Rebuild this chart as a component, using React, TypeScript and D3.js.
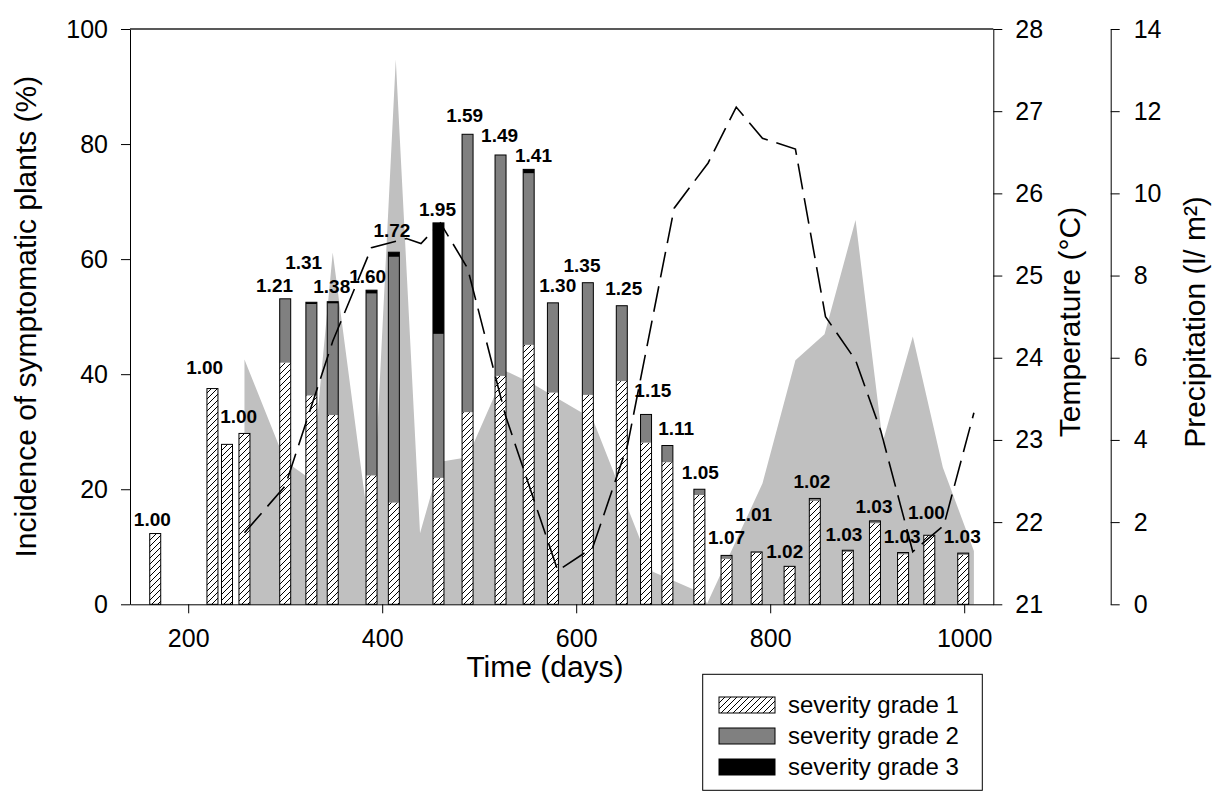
import React, { useEffect, useRef } from 'react';
import * as d3 from 'd3';

// sampling days of the disease survey
const barDays = [166, 225, 240, 258, 300, 327, 349, 389, 412, 458, 488, 522, 551, 576, 612, 647, 672, 694, 727, 755, 786, 820, 846, 880, 908, 937, 964, 999];
// incidence (%) split by severity grade
const grade1 = [12.3, 37.5, 27.8, 29.7, 42.0, 36.3, 32.9, 22.4, 17.7, 22.0, 33.4, 39.7, 45.1, 36.8, 36.4, 38.8, 28.1, 24.7, 19.0, 7.9, 9.0, 6.5, 18.0, 9.1, 14.1, 8.7, 12.0, 8.6];
const grade2 = [0, 0, 0, 0, 11.1, 15.9, 19.4, 31.6, 42.7, 25.0, 48.3, 38.4, 29.8, 15.6, 19.5, 13.1, 4.9, 2.9, 1.0, 0.6, 0.1, 0.1, 0.4, 0.3, 0.4, 0.3, 0, 0.3];
const grade3 = [0, 0, 0, 0, 0, 0.3, 0.3, 0.6, 0.8, 19.3, 0, 0, 0.7, 0, 0, 0, 0, 0, 0, 0, 0, 0, 0, 0, 0, 0, 0, 0];

// mean severity index above the bars (null = no label)
const severityLabels = ['1.00', '1.00', null, '1.00', '1.21', '1.31', '1.38', '1.60', '1.72', '1.95', '1.59', '1.49', '1.41', '1.30', '1.35', '1.25', '1.15', '1.11', '1.05', '1.07', '1.01', '1.02', '1.02', '1.03', '1.03', '1.03', '1.00', '1.03'];
// label anchors in data units (day, %)
const labelDays = [163, 217, null, 252, 289, 319, 348, 385, 410, 457, 485, 521, 556, 581, 606, 649, 679, 703, 728, 755, 783, 815, 843, 876, 907, 936, 961, 998];
const labelPcts = [13.6, 40.0, null, 31.5, 54.3, 58.2, 54.1, 55.8, 63.9, 67.5, 83.9, 80.4, 76.9, 54.3, 57.8, 53.8, 36.0, 29.4, 21.7, 10.4, 14.5, 8.0, 20.3, 11.0, 15.9, 10.7, 14.8, 10.7];

// mean temperature (°C)
const tempDays = [258, 300, 349, 389, 425, 440, 460, 488, 527, 581, 617, 653, 701, 736, 765, 792, 826, 857, 888, 914, 947, 979, 1010];
const tempValues = [21.87, 22.44, 24.2, 25.34, 25.45, 25.39, 25.64, 25.09, 23.3, 21.41, 21.69, 22.94, 25.82, 26.37, 27.05, 26.67, 26.54, 24.5, 23.97, 23.11, 21.64, 21.96, 23.33];

// precipitation (l/m²)
const precipDays = [258, 300, 327, 349, 389, 414, 439, 460, 488, 527, 555, 617, 679, 727, 735, 792, 826, 856, 888, 916, 947, 978, 1010];
const precipValues = [5.96, 3.48, 3.03, 8.56, 1.37, 13.26, 1.73, 3.47, 3.58, 5.68, 5.37, 4.51, 0.79, 0.3, 0.02, 2.94, 5.94, 6.57, 9.35, 3.95, 6.52, 3.33, 1.3];

const xTicks = [200, 400, 600, 800, 1000];
const pctTicks = [0, 20, 40, 60, 80, 100];
const tempTicks = [21, 22, 23, 24, 25, 26, 27, 28];
const precipTicks = [0, 2, 4, 6, 8, 10, 12, 14];

const legendItems = ['severity grade 1', 'severity grade 2', 'severity grade 3'];

const FONT = '"Liberation Sans", Arial, Helvetica, sans-serif';

const App = () => {
  const svgRef = useRef<SVGSVGElement>(null);

  useEffect(() => {
    const svg = d3.select(svgRef.current);
    svg.selectAll('*').remove();

    const left = 130, right = 993.3, top = 29, bottom = 604.3;
    const precipAxisX = 1110.7;

    const x = d3.scaleLinear().domain([140, 1030]).range([left, right]);
    const y = d3.scaleLinear().domain([0, 100]).range([bottom, top]);
    const yT = d3.scaleLinear().domain([21, 28]).range([bottom, top]);
    const yP = d3.scaleLinear().domain([0, 14]).range([bottom, top]);

    const fills = ['url(#hatch)', '#808080', '#000'];
    const plain = d => String(d);

    const defs = svg.append('defs');
    const pat = defs.append('pattern')
      .attr('id', 'hatch')
      .attr('patternUnits', 'userSpaceOnUse')
      .attr('width', 6)
      .attr('height', 6);
    pat.append('rect').attr('width', 6).attr('height', 6).attr('fill', '#fff');
    pat.append('path')
      .attr('d', 'M-1.5,1.5 l3,-3 M0,6 l6,-6 M4.5,7.5 l3,-3')
      .attr('stroke', '#000')
      .attr('stroke-width', 1);

    // precipitation area
    const area = d3.area<number>()
      .x((d, i) => x(precipDays[i]))
      .y0(yP(0))
      .y1(d => yP(d));
    svg.append('path').datum(precipValues).attr('d', area).attr('fill', '#c0c0c0');

    // stacked bars
    const bw = 11;
    const bars = barDays.map((day, i) => {
      const a = grade1[i], b = grade2[i], c = grade3[i];
      return { day, segs: [[0, a], [a, a + b], [a + b, a + b + c]], total: a + b + c };
    });
    const barG = svg.selectAll('.bar').data(bars).join('g').attr('class', 'bar');
    barG.selectAll('rect.seg')
      .data(d => d.segs.map((s, k) => ({ day: d.day, s, k })).filter(o => o.s[1] > o.s[0]))
      .join('rect')
      .attr('class', 'seg')
      .attr('x', o => x(o.day) - bw / 2)
      .attr('y', o => y(o.s[1]))
      .attr('width', bw)
      .attr('height', o => y(o.s[0]) - y(o.s[1]))
      .attr('fill', o => fills[o.k]);
    barG.append('rect')
      .attr('x', d => x(d.day) - bw / 2)
      .attr('y', d => y(d.total))
      .attr('width', bw)
      .attr('height', d => y(0) - y(d.total))
      .attr('fill', 'none')
      .attr('stroke', '#000')
      .attr('stroke-width', 1);

    // temperature line
    const line = d3.line<number>()
      .x((d, i) => x(tempDays[i]))
      .y(d => yT(d));
    svg.append('path')
      .datum(tempValues)
      .attr('d', line)
      .attr('fill', 'none')
      .attr('stroke', '#000')
      .attr('stroke-width', 1.6)
      .attr('stroke-dasharray', '26 9');

    // severity labels
    svg.append('g')
      .selectAll('text')
      .data(severityLabels.map((t, i) => ({ t, d: labelDays[i], p: labelPcts[i] })).filter(o => o.t))
      .join('text')
      .attr('x', o => x(o.d))
      .attr('y', o => y(o.p))
      .attr('text-anchor', 'middle')
      .attr('font-family', FONT)
      .attr('font-weight', 'bold')
      .attr('font-size', 19)
      .text(o => o.t);

    const styleAxis = g => g
      .attr('font-size', 25)
      .attr('font-family', FONT)
      .call(g => g.selectAll('text').attr('fill', '#000'))
      .call(g => g.selectAll('line, path').attr('stroke', '#000'));

    // left axis
    svg.append('g')
      .attr('transform', `translate(${left},0)`)
      .call(d3.axisLeft(y).tickValues(pctTicks).tickFormat(plain).tickSize(9).tickSizeOuter(0).tickPadding(13))
      .call(styleAxis);

    // bottom axis
    svg.append('g')
      .attr('transform', `translate(0,${bottom})`)
      .call(d3.axisBottom(x).tickValues(xTicks).tickFormat(plain).tickSize(9).tickSizeOuter(0).tickPadding(16))
      .call(styleAxis);

    // top border
    svg.append('line')
      .attr('x1', left).attr('x2', right)
      .attr('y1', top).attr('y2', top)
      .attr('stroke', '#222').attr('stroke-width', 1.5);

    // temperature axis
    svg.append('g')
      .attr('transform', `translate(${right},0)`)
      .call(d3.axisRight(yT).tickValues(tempTicks).tickFormat(plain).tickSize(9).tickSizeOuter(0).tickPadding(13))
      .call(styleAxis);

    // precipitation axis
    svg.append('g')
      .attr('transform', `translate(${precipAxisX},0)`)
      .call(d3.axisRight(yP).tickValues(precipTicks).tickFormat(plain).tickSize(9).tickSizeOuter(0).tickPadding(14))
      .call(styleAxis);

    // axis titles
    const title = (tx, ty, rot, txt) => svg.append('text')
      .attr('transform', `translate(${tx},${ty}) rotate(${rot})`)
      .attr('text-anchor', 'middle')
      .attr('font-family', FONT)
      .attr('font-size', 30)
      .attr('fill', '#000')
      .text(txt);
    title(36, (top + bottom) / 2, -90, 'Incidence of symptomatic plants (%)');
    title(1080, 322, -90, 'Temperature (°C)');
    title(1205, 322, -90, 'Precipitation (l/ m²)');
    title(545, 677, 0, 'Time (days)');

    // legend
    const lg = svg.append('g');
    lg.append('rect')
      .attr('x', 702.7).attr('y', 674.3)
      .attr('width', 279.6).attr('height', 116)
      .attr('fill', '#fff').attr('stroke', '#000').attr('stroke-width', 1);
    const rows = lg.selectAll('.row').data(legendItems).join('g')
      .attr('class', 'row')
      .attr('transform', (d, i) => `translate(719,${697 + i * 31})`);
    rows.append('rect')
      .attr('width', 56).attr('height', 16)
      .attr('fill', (d, i) => fills[i])
      .attr('stroke', '#000').attr('stroke-width', 1);
    rows.append('text')
      .attr('x', 69).attr('y', 16)
      .attr('font-family', FONT)
      .attr('font-size', 24)
      .attr('fill', '#000')
      .text(d => d);
  }, []);

  return (
    <svg
      ref={svgRef}
      width={1215}
      height={792}
      style={{ position: 'absolute', left: 0, top: 0, background: '#fff' }}
    />
  );
};

export default App;
